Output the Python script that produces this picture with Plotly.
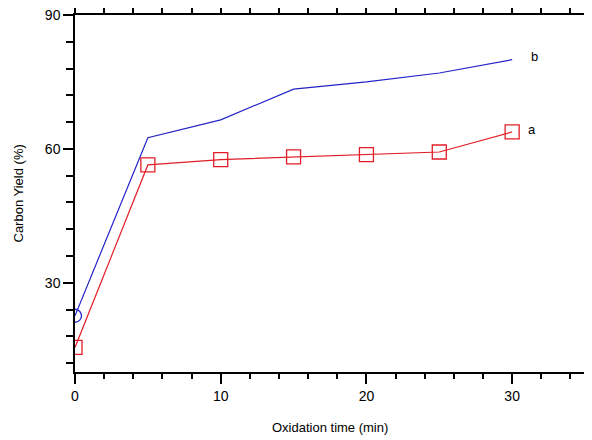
import plotly.graph_objects as go

time_min = [0, 5, 10, 15, 20, 25, 30]
yield_a = [15.5, 56.4, 57.6, 58.2, 58.7, 59.3, 63.8]
yield_b = [22.6, 62.5, 66.5, 73.4, 75.0, 77.0, 80.0]
x_ticks = [0, 10, 20, 30]
y_ticks = [30, 60, 90]

RED = "rgb(225,30,40)"
BLUE = "rgb(35,35,200)"

fig = go.Figure()
fig.add_trace(go.Scatter(
    x=time_min, y=yield_a, mode="lines+markers",
    line=dict(color=RED, width=1.2),
    marker=dict(symbol="square-open", size=14, color=RED, line=dict(width=1.3)),
    cliponaxis=True, showlegend=False))
fig.add_trace(go.Scatter(
    x=time_min, y=yield_b, mode="lines",
    line=dict(color=BLUE, width=1.2), showlegend=False))
fig.add_trace(go.Scatter(
    x=time_min[:1], y=yield_b[:1], mode="markers",
    marker=dict(symbol="circle-open", size=13, color=BLUE, line=dict(width=1.3)),
    cliponaxis=True, showlegend=False))

fig.add_annotation(x=time_min[-1], y=yield_b[-1], text="b", showarrow=False,
                   xshift=22, yshift=3, font=dict(size=13, color="black"))
fig.add_annotation(x=time_min[-1], y=yield_a[-1], text="a", showarrow=False,
                   xshift=20, yshift=2, font=dict(size=13, color="black"))

# axis titles
fig.add_annotation(xref="paper", yref="paper", x=0.5, y=0, yshift=-55,
                   text="Oxidation time (min)", showarrow=False,
                   font=dict(size=13, color="black"), yanchor="middle")
fig.add_annotation(xref="paper", yref="paper", x=0, y=0.5, xshift=-57,
                   text="Carbon Yield (%)", showarrow=False, textangle=-90,
                   font=dict(size=13, color="black"), xanchor="center")

axis_common = dict(showline=True, linecolor="black", linewidth=1.5, mirror="allticks",
                   ticks="outside", tickcolor="black", tickwidth=1.5, showgrid=False,
                   zeroline=False, tickfont=dict(size=14, color="black"), automargin=False,
                   ticklabeloverflow="allow")

fig.update_xaxes(range=[0, 35], tickvals=x_ticks, ticklen=10,
                 minor=dict(dtick=2, tick0=0, ticklen=5, ticks="outside", tickcolor="black", tickwidth=1.5),
                 **axis_common)
fig.update_yaxes(range=[10, 90], tickvals=y_ticks, ticklen=10,
                 minor=dict(dtick=6, tick0=0, ticklen=7, ticks="outside", tickcolor="black", tickwidth=1.5),
                 **axis_common)

# page body has an 8px default margin; compensate so the plot area lands where the reference has it
fig.update_layout(
    width=584, height=432,
    margin=dict(l=67, r=7, t=7, b=68),
    paper_bgcolor="white", plot_bgcolor="white",
    font=dict(family="Liberation Sans, Arial, sans-serif", color="black"),
)
fig.write_html("out.html")
